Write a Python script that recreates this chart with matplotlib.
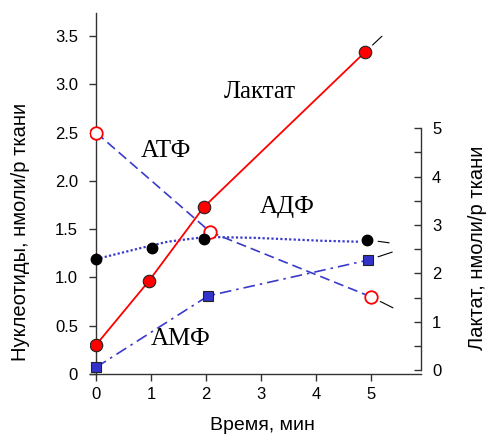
import numpy as np
import matplotlib
matplotlib.use("Agg")
import matplotlib.pyplot as plt
from matplotlib.ticker import FixedLocator

# data
time_atp = [0, 2.08, 5]
atp = [2.5, 1.47, 0.80]

time_adp = [0, 1.02, 1.96, 4.93]
adp = [1.19, 1.31, 1.40, 1.39]
adp_curve_x = [0, 0.85, 1.3, 2.0, 2.9, 4.1, 4.8]
adp_curve_y = [1.19, 1.31, 1.37, 1.42, 1.41, 1.38, 1.37]

time_amp = [0, 2.04, 4.95]
amp = [0.07, 0.81, 1.18]

time_lac = [0, 0.96, 1.96, 4.89]
lactate = [0.52, 1.84, 3.37, 6.57]

x_ticks = [0, 1, 2, 3, 4, 5]
left_ticks = [0, 0.5, 1.0, 1.5, 2.0, 2.5, 3.0, 3.5]
left_labels = ['0', '0.5', '1.0', '1.5', '2.0', '2.5', '3.0', '3.5']
right_ticks = [0, 1, 2, 3, 4, 5]
right_minor = [0.5, 1.5, 2.5, 3.5, 4.5]

red = '#ff0000'
blue = '#3a3acc'
spine = '#333333'

fig = plt.figure(figsize=(4.87, 4.34), dpi=100)
ax = fig.add_axes([0.1848, 0.138, 0.6797, 0.832])
ax2 = ax.twinx()

ax.set_xlim(-0.11, 5.91)
ax.set_ylim(0, 3.737)
ax2.set_ylim(-0.083, 7.38)

# nucleotides
ax.plot(time_atp, atp, ls=(0, (6, 3)), color=blue, lw=1.2, zorder=2)
ax.plot(time_atp, atp, 'o', ms=9, mfc='white', mec=red, mew=1.3, ls='none', zorder=4)

ax.plot(adp_curve_x, adp_curve_y, ls=(0, (1, 1)), color=blue, lw=1.6, zorder=2)
ax.plot(time_adp, adp, 'o', ms=7.5, mfc='black', mec='black', ls='none', zorder=4)

ax.plot(time_amp, amp, ls=(0, (7, 3, 1.5, 3)), color=blue, lw=1.2, zorder=2)
ax.plot(time_amp, amp, 's', ms=7.5, mfc='#3333cc', mec='#222222', mew=0.8, ls='none', zorder=4)

# lactate on the right axis
ax2.plot(time_lac, lactate, '-', color=red, lw=1.3, zorder=2)
ax2.plot(time_lac, lactate, 'o', ms=9, mfc=red, mec='#222222', mew=0.8, ls='none', zorder=4)

# short leader strokes at the last points
def leader(a, x, y, dx, dy, gap):
    a.annotate('', xy=(x, y), xytext=(dx, dy), textcoords='offset pixels',
               arrowprops=dict(arrowstyle='-', color='black', lw=0.8,
                               shrinkA=0, shrinkB=gap))

leader(ax2, time_lac[-1], lactate[-1], 17, 16, 7.5)
leader(ax, time_adp[-1], adp[-1], 22, -3, 8)
leader(ax, time_amp[-1], amp[-1], 24, 8, 7.5)
leader(ax, time_atp[-1], atp[-1], 22, -11, 7.5)

# labels inside the plot
lab = dict(family='Liberation Serif', fontsize=18, color='black', ha='center', va='center')
fig.text(260 / 487, 1 - 92 / 434, 'Лактат', **lab)
fig.text(166 / 487, 1 - 151 / 434, 'АТФ', **lab)
fig.text(287 / 487, 1 - 207 / 434, 'АДФ', **lab)
fig.text(181 / 487, 1 - 339 / 434, 'АМФ', **lab)

# axes styling
for a in (ax, ax2):
    a.spines['top'].set_visible(False)
    for s in a.spines.values():
        s.set_color(spine)
        s.set_linewidth(1.0)
ax.spines['right'].set_visible(False)
ax.spines['left'].set_position(('data', 0))
ax2.spines['left'].set_visible(False)
ax2.spines['bottom'].set_visible(False)
ax2.spines['right'].set_bounds(0, 5)

tick_font = dict(family='Liberation Sans', size=12)
ax.set_xticks(x_ticks)
ax.set_xticklabels([str(t) for t in x_ticks], **tick_font)
ax.set_yticks(left_ticks)
ax.set_yticklabels(left_labels, **tick_font)
ax.tick_params(axis='x', direction='out', length=5, width=1, color=spine, pad=4)
ax.tick_params(axis='y', direction='out', length=5, width=1, color=spine, pad=8)

ax2.set_yticks(right_ticks)
ax2.set_yticklabels([str(t) for t in right_ticks], **tick_font)
ax2.yaxis.set_minor_locator(FixedLocator(right_minor))
ax2.tick_params(axis='y', which='both', direction='in', length=5, width=1, color=spine, pad=8)

ax.set_xlabel('Время, мин', family='Liberation Sans', fontsize=14)
ax.xaxis.set_label_coords(0.52, -0.118)
ax.set_ylabel('Нуклеотиды, нмоли/р ткани', family='Liberation Sans', fontsize=14.5)
ax.yaxis.set_label_coords(-0.18, 0.393)
ax2.set_ylabel('Лактат, нмоли/р ткани', family='Liberation Sans', fontsize=14.5)
ax2.yaxis.set_label_coords(1.142, 0.349)

fig.savefig('out.png', dpi=100)
